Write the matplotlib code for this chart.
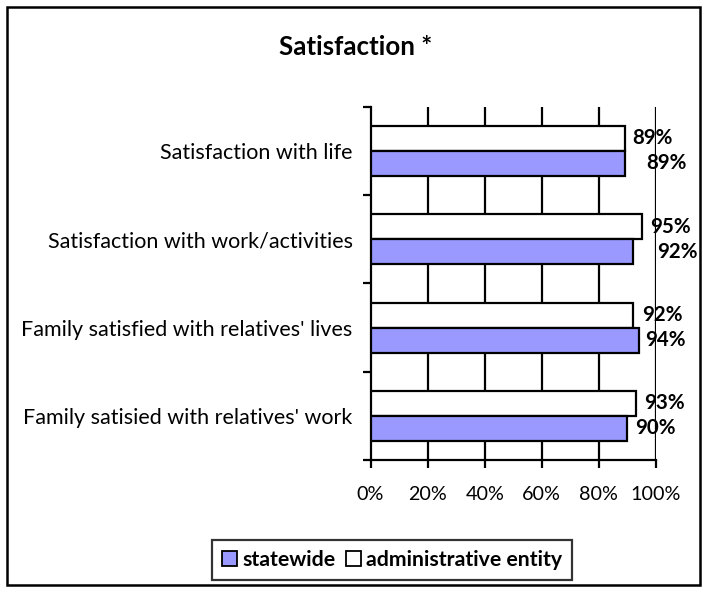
import matplotlib
matplotlib.use("Agg")
import matplotlib.pyplot as plt
from matplotlib.patches import Rectangle, Patch

plt.rcParams["font.family"] = ["Lato", "DejaVu Sans"]

categories = [
    "Satisfaction with life",
    "Satisfaction with work/activities",
    "Family satisfied with relatives' lives",
    "Family satisied with relatives' work",
]
statewide = [89, 92, 94, 90]
admin_entity = [89, 95, 92, 93]
x_ticks = [0, 20, 40, 60, 80, 100]

# label nudges in pixels (labels were moved by hand in the original)
admin_nudge = [8, 8, 9, 8]
state_nudge = [22, 24, 6, 8]

px = 72 / 100  # points per pixel at dpi 100

fig = plt.figure(figsize=(7.08, 5.92), dpi=100)
ax = fig.add_axes([370.5 / 708, 1 - 460 / 592, 285.5 / 708, (460 - 106.7) / 592])

n = len(categories)
ypos = [n - 1 - i for i in range(n)]
h = 0.283

ax.barh([y + h / 2 for y in ypos], admin_entity, height=h, color="white",
        edgecolor="black", linewidth=1.6, zorder=3)
ax.barh([y - h / 2 for y in ypos], statewide, height=h, color="#9999ff",
        edgecolor="black", linewidth=1.6, zorder=3)

for y, v, dx in zip(ypos, admin_entity, admin_nudge):
    ax.annotate(f"{v}%", (v, y + h / 2), xytext=(dx * px, 0), textcoords="offset points",
                ha="left", va="center", fontsize=14.8, fontweight="bold", zorder=5)
for y, v, dx in zip(ypos, statewide, state_nudge):
    ax.annotate(f"{v}%", (v, y - h / 2), xytext=(dx * px, 0), textcoords="offset points",
                ha="left", va="center", fontsize=14.8, fontweight="bold", zorder=5)

ax.set_xlim(0, 100)
ax.set_ylim(-0.5, n - 0.5)
ax.set_xticks(x_ticks)
ax.set_xticklabels([f"{t}%" for t in x_ticks], fontsize=14.2)
ax.set_yticks(ypos)
ax.set_yticklabels(categories, fontsize=15.5)
ax.set_yticks([i - 0.5 for i in range(n + 1)], minor=True)
ax.tick_params(axis="y", which="major", length=0, pad=18 * px)
ax.tick_params(axis="y", which="minor", length=8 * px, width=1.6, direction="out")
ax.tick_params(axis="x", length=8 * px, width=1.6, direction="out", pad=18 * px)

for t in x_ticks[1:]:
    ax.axvline(t, color="black", linewidth=1.6, zorder=1)

ax.spines["top"].set_visible(False)
ax.spines["right"].set_visible(False)
ax.spines["left"].set_linewidth(1.6)
ax.spines["bottom"].set_linewidth(1.6)

fig.text(356 / 708, 1 - 47 / 592, "Satisfaction *", ha="center", va="center",
         fontsize=18.6, fontweight="bold")

handles = [Patch(facecolor="#9999ff", edgecolor="black", linewidth=1.3),
           Patch(facecolor="white", edgecolor="black", linewidth=1.3)]
leg = fig.legend(handles, ["statewide", "administrative entity"], ncol=2,
                 loc="center", bbox_to_anchor=(392 / 708, 1 - 560 / 592),
                 frameon=True, fancybox=False, handlelength=0.7, handleheight=0.7,
                 handletextpad=0.25, columnspacing=0.5, borderpad=0.45,
                 prop={"weight": "bold", "size": 15.3})
leg.get_frame().set_edgecolor("black")
leg.get_frame().set_linewidth(1.6)

fig.patches.append(Rectangle((7 / 708, 1 - 585 / 592), 693 / 708, 578 / 592,
                             transform=fig.transFigure, fill=False,
                             edgecolor="black", linewidth=1.8))

fig.savefig("out.png", dpi=100)
